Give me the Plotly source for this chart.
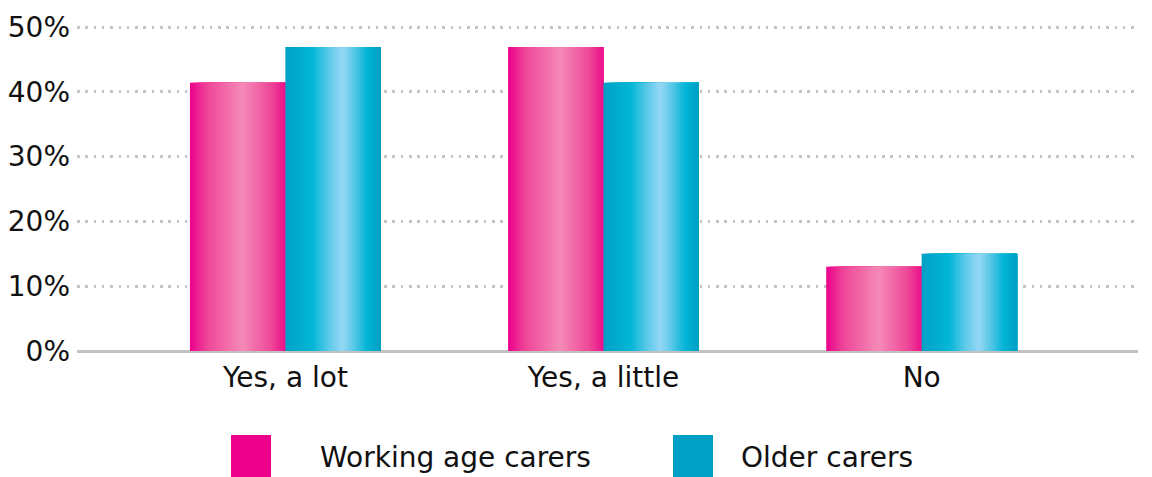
import plotly.graph_objects as go

# ---- data ----
categories = ["Yes, a lot", "Yes, a little", "No"]
working_age = [41.4, 46.9, 13.0]
older = [46.9, 41.4, 15.0]
series_names = ["Working age carers", "Older carers"]
y_ticks = [0, 10, 20, 30, 40, 50]
y_tick_labels = ["0%", "10%", "20%", "30%", "40%", "50%"]

# ---- style ----
# page body has an 8px default margin, so the figure is offset by (8, 8)
OFF = 8
W, H = 1152 - OFF, 477 - OFF
ML, MR, MT, MB = 77 - OFF, 14, 20 - OFF, 126
FONT = "DejaVu Sans, Liberation Sans, Arial, sans-serif"
FS = 28

pink_stops = [(0.0, (236, 0, 140)), (0.18, (238, 70, 152)), (0.55, (245, 138, 183)),
              (0.85, (238, 72, 152)), (1.0, (236, 16, 138))]
teal_stops = [(0.0, (0, 160, 198)), (0.28, (0, 182, 214)), (0.45, (90, 200, 232)),
              (0.6, (150, 216, 245)), (0.75, (70, 194, 226)), (0.86, (0, 180, 214)),
              (1.0, (0, 160, 194))]


def interp(stops, t):
    for (t0, c0), (t1, c1) in zip(stops[:-1], stops[1:]):
        if t0 <= t <= t1:
            f = (t - t0) / (t1 - t0) if t1 > t0 else 0
            return "rgb(%d,%d,%d)" % tuple(round(a + (b - a) * f) for a, b in zip(c0, c1))
    return "rgb(%d,%d,%d)" % stops[-1][1]


BAR_W = 0.30
N_SLICES = 40

fig = go.Figure()

for values, stops, start in [(working_age, pink_stops, -BAR_W), (older, teal_stops, 0.0)]:
    end = start + BAR_W
    for i in range(N_SLICES):
        s = start + BAR_W * i / N_SLICES
        t = (i + 0.5) / N_SLICES
        fig.add_trace(go.Bar(
            x=categories, y=values,
            offset=s, width=end - s,
            marker=dict(color=interp(stops, t), line=dict(width=0)),
            showlegend=False, hoverinfo="skip",
        ))

plot_h = H - MT - MB
fig.update_layout(
    width=W, height=H,
    margin=dict(l=ML, r=MR, t=MT, b=MB, autoexpand=False),
    barmode="overlay",
    plot_bgcolor="white", paper_bgcolor="white",
    font=dict(family=FONT, size=FS, color="#111111"),
    showlegend=False,
)

fig.update_xaxes(
    type="category",
    range=[-0.655, 2.68],
    automargin=False,
    showgrid=False, showline=False, zeroline=False,
    ticks="", ticklabelstandoff=7,
    tickfont=dict(size=FS, color="#111111"),
)
fig.update_yaxes(
    range=[0, 50 * plot_h / (plot_h - 7)],
    automargin=False,
    tickvals=y_ticks, ticktext=y_tick_labels,
    showgrid=True, gridcolor="#c4c4c4", gridwidth=2.5, griddash="2.5px,5.8px",
    zeroline=True, zerolinecolor="#c2c2c2", zerolinewidth=3,
    showline=False, ticks="", ticklabelstandoff=6,
    tickfont=dict(size=FS, color="#111111"),
)

# ---- legend drawn with shapes + text (positions in window pixels) ----
pw = W - ML - MR


def px_x(x):
    return (x - OFF - ML) / pw


def px_y(y):
    return (H - MB - (y - OFF)) / plot_h


legend_items = [
    (series_names[0], "#EC008C", 231, 271, 318),
    (series_names[1], "#00A0C6", 673, 713, 739),
]
for name, color, x0, x1, tx in legend_items:
    fig.add_shape(type="rect", xref="paper", yref="paper",
                  x0=px_x(x0), x1=px_x(x1), y0=px_y(435), y1=px_y(478),
                  fillcolor=color, line=dict(width=0))
    fig.add_annotation(xref="paper", yref="paper", x=px_x(tx), y=px_y(457),
                       xanchor="left", yanchor="middle", showarrow=False,
                       text=name, font=dict(family=FONT, size=FS, color="#111111"))

fig.write_html("out.html")
